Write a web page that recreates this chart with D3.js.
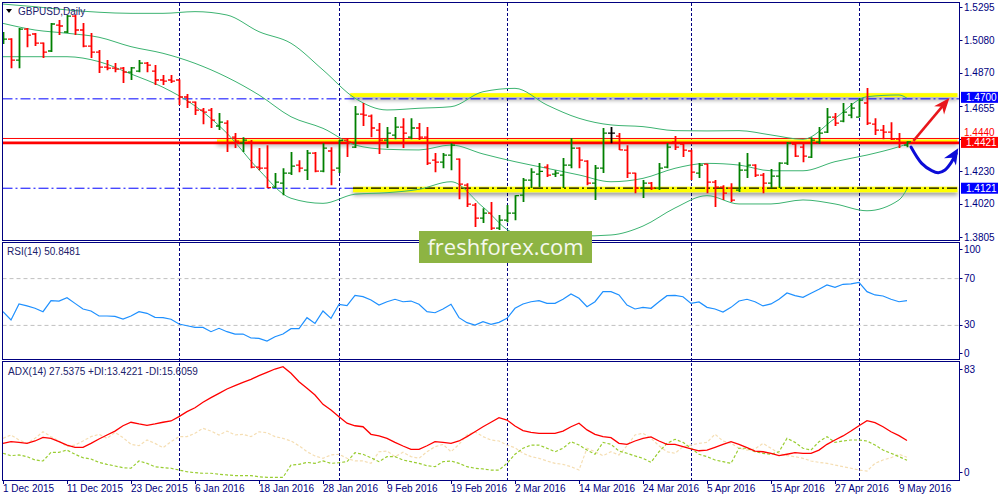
<!DOCTYPE html>
<html>
<head>
<meta charset="utf-8">
<script src="https://cdn.jsdelivr.net/npm/d3@7"></script>
<style>
  body { margin: 0; background: #fff; }
  svg { display: block; font-family: "Liberation Sans", Arial, sans-serif; }
</style>
</head>
<body>
<svg id="chart" width="1000" height="500"></svg>
<script>
// GBPUSD daily bars, 1 Dec 2015 .. 10 May 2016
const opens = [1.5068,1.5087,1.4951,1.5152,1.5120,1.5061,1.5010,1.5178,1.5133,1.5236,
  1.5146,1.5042,1.5003,1.4906,1.4899,1.4899,1.4873,1.4880,1.4932,1.4880,
  1.4822,1.4822,1.4822,1.4712,1.4679,1.4627,1.4627,1.4524,1.4543,1.4452,
  1.4413,1.4420,1.4258,1.4251,1.4128,1.4154,1.4219,1.4271,1.4238,1.4349,
  1.4232,1.4362,1.4251,1.4433,1.4387,1.4601,1.4588,1.4498,1.4433,1.4465,
  1.4517,1.4452,1.4511,1.4452,1.4303,1.4290,1.4336,1.4310,1.4141,1.4012,
  1.3927,1.3960,1.3863,1.3914,1.3960,1.4076,1.4174,1.4212,1.4258,1.4212,
  1.4206,1.4271,1.4381,1.4297,1.4154,1.4251,1.4478,1.4459,1.4368,1.4219,
  1.4122,1.4154,1.4122,1.4258,1.4420,1.4407,1.4362,1.4219,1.4277,1.4161,
  1.4128,1.4122,1.4109,1.4238,1.4271,1.4206,1.4154,1.4199,1.4284,1.4407,
  1.4387,1.4323,1.4420,1.4485,1.4582,1.4556,1.4595,1.4582,1.4673,1.4536,
  1.4498,1.4485,1.4439,1.4400];
const highs = [1.5133,1.5092,1.5159,1.5159,1.5126,1.5065,1.5191,1.5211,1.5243,1.5243,
  1.5191,1.5126,1.5016,1.4951,1.4932,1.4906,1.4906,1.4951,1.4938,1.4919,
  1.4854,1.4854,1.4825,1.4731,1.4682,1.4640,1.4640,1.4608,1.4562,1.4478,
  1.4452,1.4433,1.4381,1.4400,1.4219,1.4251,1.4355,1.4303,1.4368,1.4355,
  1.4413,1.4387,1.4433,1.4446,1.4653,1.4673,1.4598,1.4543,1.4517,1.4582,
  1.4575,1.4575,1.4543,1.4517,1.4349,1.4349,1.4413,1.4313,1.4154,1.4025,
  1.3992,1.4031,1.3947,1.4012,1.4076,1.4187,1.4251,1.4284,1.4277,1.4238,
  1.4316,1.4446,1.4387,1.4303,1.4271,1.4511,1.4517,1.4478,1.4400,1.4222,
  1.4174,1.4161,1.4284,1.4413,1.4459,1.4420,1.4370,1.4284,1.4280,1.4174,
  1.4141,1.4154,1.4290,1.4349,1.4277,1.4219,1.4245,1.4290,1.4420,1.4420,
  1.4413,1.4452,1.4517,1.4640,1.4608,1.4673,1.4673,1.4705,1.4770,1.4575,
  1.4530,1.4549,1.4478,1.4426];
const lows = [1.5055,1.4899,1.4899,1.5035,1.5042,1.4964,1.5003,1.5113,1.5126,1.5113,
  1.5035,1.4964,1.4867,1.4886,1.4873,1.4802,1.4822,1.4873,1.4873,1.4789,
  1.4789,1.4802,1.4660,1.4640,1.4595,1.4536,1.4511,1.4498,1.4355,1.4381,
  1.4355,1.4251,1.4238,1.4122,1.4122,1.4076,1.4206,1.4225,1.4174,1.4225,
  1.4225,1.4141,1.4219,1.4323,1.4381,1.4524,1.4452,1.4342,1.4381,1.4439,
  1.4381,1.4439,1.4433,1.4271,1.4225,1.4251,1.4238,1.4050,1.3999,1.3869,
  1.3895,1.3850,1.3850,1.3901,1.3914,1.4031,1.4122,1.4128,1.4193,1.4193,
  1.4122,1.4251,1.4251,1.4141,1.4044,1.4219,1.4413,1.4368,1.4187,1.4089,
  1.4057,1.4109,1.4109,1.4251,1.4368,1.4323,1.4174,1.4187,1.4089,1.3999,
  1.4044,1.4031,1.4096,1.4187,1.4193,1.4089,1.4122,1.4122,1.4271,1.4323,
  1.4290,1.4316,1.4407,1.4478,1.4524,1.4549,1.4575,1.4582,1.4530,1.4465,
  1.4439,1.4433,1.4381,1.4387];
const closes = [1.5087,1.4951,1.5152,1.5113,1.5061,1.5003,1.5185,1.5172,1.5236,1.5146,
  1.5042,1.5003,1.4906,1.4899,1.4893,1.4873,1.4900,1.4932,1.4919,1.4822,
  1.4815,1.4815,1.4712,1.4679,1.4627,1.4614,1.4562,1.4549,1.4413,1.4426,
  1.4433,1.4258,1.4251,1.4125,1.4161,1.4219,1.4264,1.4251,1.4349,1.4232,
  1.4381,1.4238,1.4430,1.4420,1.4601,1.4595,1.4511,1.4433,1.4478,1.4517,
  1.4478,1.4511,1.4452,1.4284,1.4290,1.4336,1.4400,1.4148,1.4018,1.3927,
  1.3960,1.3863,1.3914,1.3960,1.4073,1.4174,1.4225,1.4230,1.4206,1.4219,
  1.4271,1.4381,1.4303,1.4154,1.4251,1.4478,1.4478,1.4370,1.4219,1.4122,
  1.4154,1.4122,1.4251,1.4387,1.4387,1.4368,1.4225,1.4271,1.4161,1.4128,
  1.4089,1.4044,1.4238,1.4271,1.4206,1.4154,1.4199,1.4284,1.4413,1.4329,
  1.4329,1.4433,1.4478,1.4582,1.4543,1.4614,1.4640,1.4692,1.4543,1.4498,
  1.4485,1.4439,1.4413,1.4421];

// Bollinger bands read every 4th bar
const bbBars   = [0,4,8,12,16,20,24,28,32,36,40,44,48,52,56,60,64,68,72,76,80,84,88,92,96,100,104,108,112,113];
const bbUpper  = [1.5314,1.5297,1.5276,1.5261,1.5254,1.5254,1.5265,1.5243,1.5135,1.5060,1.4887,1.4704,1.4628,1.4639,1.4649,
  1.4746,1.4768,1.4660,1.4574,1.4531,1.4520,1.4494,1.4492,1.4494,1.4466,1.4438,1.4574,1.4714,1.4725,1.4704];
const bbMiddle = [1.5189,1.5146,1.5125,1.5099,1.5038,1.4995,1.4930,1.4840,1.4725,1.4584,1.4509,1.4401,1.4373,1.4369,1.4401,
  1.4343,1.4293,1.4250,1.4207,1.4163,1.4185,1.4250,1.4282,1.4271,1.4234,1.4234,1.4293,1.4336,1.4390,1.4407];
const bbLower  = [1.4973,1.4973,1.4973,1.4941,1.4861,1.4775,1.4654,1.4477,1.4239,1.4056,1.4023,1.4082,1.4092,1.4114,1.4163,
  1.3999,1.3831,1.3818,1.3811,1.3818,1.3876,1.3993,1.4073,1.4019,1.4019,1.4045,1.4019,1.3975,1.4045,1.4116];

const rsi = [41.3,34.2,47.9,46.2,44.2,41.3,50.7,50.4,53.3,48.4,43.6,41.9,37.6,37.6,37.3,35.0,37.6,41.3,39.9,36.5,
  36.2,34.8,30.8,29.3,27.9,27.9,24.2,27.1,24.2,22.2,22.2,18.8,18.5,16.2,19.9,22.2,26.8,26.8,36.2,31.3,
  41.9,35.6,47.6,46.4,55.3,54.1,51.3,47.0,49.8,51.9,49.8,50.4,47.6,41.3,40.4,43.6,47.6,36.2,31.9,29.9,
  32.7,30.5,32.2,35.6,44.2,47.9,49.8,50.7,48.4,48.4,51.9,56.4,52.7,45.6,49.8,58.4,58.4,55.6,47.0,43.6,
  45.0,44.2,49.8,55.0,55.3,54.1,48.4,49.6,45.0,43.6,41.0,45.0,50.4,51.9,49.8,46.2,47.9,51.9,57.3,55.0,
  53.6,57.0,60.4,64.1,62.1,64.7,65.0,66.4,58.4,55.6,54.7,51.9,49.8,50.8];
const adx = [25.5,26.7,26.2,25.5,27.2,29.8,29.1,26.7,24.3,22.7,22.7,25.5,28.6,31.5,34.3,38.1,40.6,39.4,38.4,39.4,
  40.6,41.5,44.6,48.2,51.0,54.9,58.2,61.3,64.4,66.8,69.2,71.3,73.9,76.3,78.7,80.4,75.6,69.6,64.9,60.1,
  53.4,49.4,44.6,39.9,38.1,37.4,32.0,30.8,29.1,26.2,23.6,21.2,21.2,23.8,26.7,26.2,25.5,27.2,30.3,33.8,
  37.4,40.6,43.9,42.2,37.9,34.6,33.4,32.7,32.7,32.7,34.3,37.4,39.9,35.1,32.0,30.3,29.6,25.5,24.8,27.2,
  29.1,30.1,27.2,24.8,24.8,23.1,21.5,20.2,20.7,22.7,24.8,26.7,24.8,22.4,20.0,19.5,18.4,16.7,17.7,18.8,
  18.4,18.4,20.7,24.8,27.9,30.8,34.3,38.1,41.7,40.3,37.4,33.8,31.0,27.5];
const plusDI = [18.4,16.7,17.2,16.0,13.6,12.9,19.1,19.1,20.7,17.7,15.2,14.3,11.9,10.5,9.3,8.1,7.7,12.9,11.2,8.8,
  8.1,7.7,6.4,5.2,4.5,4.1,4.1,3.4,2.9,2.4,2.4,2.4,1.6,1.2,1.2,1.2,10.0,10.5,11.9,11.2,
  12.9,11.2,11.7,12.4,18.8,17.7,15.2,12.4,16.0,16.0,13.6,12.4,11.2,9.5,8.8,12.4,12.9,11.2,8.8,7.7,
  7.2,6.4,6.4,11.2,17.7,22.0,24.3,24.3,22.0,19.5,22.0,26.7,24.3,20.7,17.7,26.2,24.8,20.0,18.4,16.5,
  14.8,11.9,19.5,25.5,28.4,26.2,22.0,17.7,16.0,13.6,12.4,11.2,22.0,22.0,19.5,18.4,17.7,19.5,29.1,26.2,
  22.0,20.7,26.7,30.3,26.2,27.2,27.9,27.9,27.2,24.3,20.7,18.4,16.0,13.4];
const minusDI = [29.1,31.5,27.9,25.5,29.1,33.8,30.3,27.2,23.1,24.3,27.2,30.3,32.0,29.1,33.4,29.6,24.8,23.8,27.9,25.5,
  22.4,26.7,30.3,30.3,32.7,36.3,34.3,31.5,34.3,31.5,32.0,30.3,33.8,33.1,30.3,29.1,27.2,23.8,19.5,16.5,
  14.8,17.2,17.7,14.8,12.9,12.9,11.2,19.5,20.0,16.0,19.1,16.0,14.8,19.5,23.1,24.8,19.5,24.8,31.5,33.8,
  30.3,27.9,27.2,24.3,22.4,18.4,16.0,14.8,12.9,11.2,10.5,8.8,6.4,22.0,19.5,16.7,19.5,17.2,23.8,31.5,
  32.7,29.1,23.8,19.5,18.4,23.1,24.3,25.5,26.2,32.0,27.2,25.5,22.0,20.7,21.5,25.5,22.0,18.4,16.7,16.0,
  14.8,12.9,11.9,11.2,10.0,8.8,7.7,6.4,5.7,11.2,13.6,15.2,17.7,15.6];

const priceTicks = [1.5295, 1.5080, 1.4870, 1.4655, 1.4440, 1.4230, 1.4020, 1.3805];
const rsiTicks = [100, 70, 30, 0];
const adxTicks = [83, 0];
const holidays = ['2015-12-25', '2016-01-01'];

// drawn levels and annotations (bar index, price)
const levels = { resist: 1.4700, pivot: 1.4421, ask: 1.4440, support: 1.4121 };
const bands = [
  { from: 43.4, lo: 1.4712, hi: 1.4737 },
  { from: 26.75, lo: 1.4418, hi: 1.4437 },
  { from: 43.75, lo: 1.4095, hi: 1.4131 }
];
const redArrow = [[113.8, 1.4428], [118.3, 1.4705]];
const blueArrow = [[113.5, 1.4388], [114.84, 1.4282], [116.09, 1.4235], [116.91, 1.4222],
  [117.75, 1.4239], [118.59, 1.4293], [119.41, 1.4380]];

// trading days
const fmtKey = d3.timeFormat('%Y-%m-%d');
const dates = [];
for (let d = new Date(2015, 11, 1); dates.length < closes.length; d = d3.timeDay.offset(d, 1)) {
  if (d.getDay() === 0 || d.getDay() === 6 || holidays.includes(fmtKey(d))) continue;
  dates.push(d);
}
const fmtLabel = d3.timeFormat('%-d %b %Y');

const svg = d3.select('#chart');
const navy = '#000080';
const left = 2.5, right = 959.5;
const panes = { main: [2.5, 240.5], rsi: [242.5, 359.5], adx: [361.5, 480.5] };

const x = d3.scaleLinear().domain([0, 119.5]).range([3, 959]);
const yP = d3.scaleLinear().domain([1.3805, 1.5295]).range([237, 7]);
const yR = d3.scaleLinear().domain([0, 100]).range([360, 243]);
const yA = d3.scaleLinear().domain([0, 83]).range([479, 363]);

svg.append('rect').attr('width', 1000).attr('height', 500).attr('fill', '#fff');

const defs = svg.append('defs');
Object.entries(panes).forEach(([k, p]) => {
  defs.append('clipPath').attr('id', 'clip-' + k)
    .append('rect').attr('x', left).attr('y', p[0]).attr('width', right - left).attr('height', p[1] - p[0]);
});
defs.append('filter').attr('id', 'shadow')
  .attr('x', '-2%').attr('y', '-100%').attr('width', '104%').attr('height', '400%')
  .append('feDropShadow').attr('dx', 0).attr('dy', 3).attr('stdDeviation', 2)
  .attr('flood-color', '#000').attr('flood-opacity', 0.4);

// month separators through all panes
const monthStarts = d3.range(1, dates.length).filter(i => dates[i].getMonth() !== dates[i - 1].getMonth());
svg.append('g').selectAll('line').data(monthStarts).enter().append('line')
  .attr('x1', i => Math.round(x(i)) + 0.5).attr('x2', i => Math.round(x(i)) + 0.5)
  .attr('y1', 3).attr('y2', 480)
  .attr('stroke', navy).attr('stroke-width', 1).attr('stroke-dasharray', '3,2');

// ---------- main pane ----------
const main = svg.append('g').attr('clip-path', 'url(#clip-main)');

main.selectAll('.band').data(bands).enter().append('rect')
  .attr('class', 'band')
  .attr('x', d => x(d.from)).attr('width', d => right - 2 - x(d.from))
  .attr('y', d => yP(d.hi)).attr('height', d => yP(d.lo) - yP(d.hi))
  .attr('fill', '#ffff00').attr('filter', 'url(#shadow)');

const hline = (g, price, x1, x2, color, width, dash, off) => g.append('line')
  .attr('x1', x1).attr('x2', x2).attr('y1', yP(price) + (off || 0)).attr('y2', yP(price) + (off || 0))
  .attr('stroke', color).attr('stroke-width', width).attr('stroke-dasharray', dash || null);

hline(main, levels.resist, left, right, '#0000ff', 1, '10,3,2,3');
hline(main, levels.support, left, x(bands[2].from), '#0000ff', 1, '10,3,2,3');
hline(main, levels.support, x(bands[2].from), right, '#000000', 1.3, '10,3,2,3');
hline(main, levels.ask, left, right, '#ff0000', 1, null, -0.5);
hline(main, levels.pivot, left, right, '#ff0000', 2.6, null, 1);

const bbLine = arr => d3.line().curve(d3.curveMonotoneX)
  .x((v, k) => x(bbBars[k])).y(v => yP(v))(arr);
[bbUpper, bbMiddle, bbLower].forEach(arr => {
  main.append('path').attr('d', bbLine(arr))
    .attr('fill', 'none').attr('stroke', '#3cb371').attr('stroke-width', 1);
});

const bars = d3.range(closes.length).map(i => ({ i, o: opens[i], h: highs[i], l: lows[i], c: closes[i] }));
const barColor = d => d.c > d.o ? '#008000' : d.c < d.o ? '#ff0000' : '#000000';
const barG = main.selectAll('.bar').data(bars).enter().append('g').attr('class', 'bar')
  .attr('stroke', barColor);
barG.append('line')
  .attr('x1', d => Math.round(x(d.i)) + 0.5).attr('x2', d => Math.round(x(d.i)) + 0.5)
  .attr('y1', d => yP(d.h)).attr('y2', d => yP(d.l)).attr('stroke-width', 1.8);
barG.append('line')
  .attr('x1', d => Math.round(x(d.i)) - 3).attr('x2', d => Math.round(x(d.i)) + 0.5)
  .attr('y1', d => yP(d.o)).attr('y2', d => yP(d.o)).attr('stroke-width', 1.3);
barG.append('line')
  .attr('x1', d => Math.round(x(d.i)) + 0.5).attr('x2', d => Math.round(x(d.i)) + 4)
  .attr('y1', d => yP(d.c)).attr('y2', d => yP(d.c)).attr('stroke-width', 1.3);

// arrows
const arrowHead = (g, tip, from, len, half, color) => {
  const dx = tip[0] - from[0], dy = tip[1] - from[1];
  const n = Math.hypot(dx, dy), ux = dx / n, uy = dy / n;
  const bx = tip[0] - ux * len, by = tip[1] - uy * len;
  const pts = [tip, [bx - uy * half, by + ux * half],
    [tip[0] - ux * len * 0.7, tip[1] - uy * len * 0.7], [bx + uy * half, by - ux * half]];
  g.append('polygon').attr('points', pts.map(p => p.join(',')).join(' ')).attr('fill', color);
};
const annot = svg.append('g');
const redPts = redArrow.map(p => [x(p[0]), yP(p[1])]);
annot.append('line')
  .attr('x1', redPts[0][0]).attr('y1', redPts[0][1])
  .attr('x2', redPts[1][0] - 0.5 * (redPts[1][0] - redPts[0][0]) / 4)
  .attr('y2', redPts[1][1] - 0.5 * (redPts[1][1] - redPts[0][1]) / 4)
  .attr('stroke', '#e8161b').attr('stroke-width', 2.5);
arrowHead(annot, redPts[1], redPts[0], 16, 6.5, '#e8161b');

const bluePts = blueArrow.map(p => [x(p[0]), yP(p[1])]);
annot.append('path')
  .attr('d', d3.line().curve(d3.curveCatmullRom)(bluePts.slice(0, -1).concat([[
    bluePts[bluePts.length - 1][0] - 2, bluePts[bluePts.length - 1][1] + 5]])))
  .attr('fill', 'none').attr('stroke', '#0c0cd8').attr('stroke-width', 3).attr('stroke-linecap', 'round');
arrowHead(annot, bluePts[bluePts.length - 1], bluePts[bluePts.length - 3], 16, 7, '#0c0cd8');

// ---------- RSI pane ----------
const rsiG = svg.append('g').attr('clip-path', 'url(#clip-rsi)');
[70, 30].forEach(v => {
  rsiG.append('line').attr('x1', left).attr('x2', right).attr('y1', yR(v) + 0.5).attr('y2', yR(v) + 0.5)
    .attr('stroke', '#c0c0c0').attr('stroke-dasharray', '4,3');
});
rsiG.append('path')
  .attr('d', d3.line().x((v, i) => x(i)).y(v => yR(v))(rsi))
  .attr('fill', 'none').attr('stroke', '#1e90ff').attr('stroke-width', 1.2);

// ---------- ADX pane ----------
const adxG = svg.append('g').attr('clip-path', 'url(#clip-adx)');
const adxLine = d3.line().x((v, i) => x(i)).y(v => yA(v));
adxG.append('path').attr('d', adxLine(minusDI))
  .attr('fill', 'none').attr('stroke', '#f5deb3').attr('stroke-width', 1.2).attr('stroke-dasharray', '3,2');
adxG.append('path').attr('d', adxLine(plusDI))
  .attr('fill', 'none').attr('stroke', '#9acd32').attr('stroke-width', 1.2).attr('stroke-dasharray', '3,2');
adxG.append('path').attr('d', adxLine(adx))
  .attr('fill', 'none').attr('stroke', '#ff0000').attr('stroke-width', 1.3);

// ---------- frames ----------
Object.values(panes).forEach(p => {
  svg.append('rect').attr('x', left).attr('y', p[0]).attr('width', right - left).attr('height', p[1] - p[0])
    .attr('fill', 'none').attr('stroke', navy).attr('stroke-width', 1);
});

// right axes
const axisText = (y, label, color) => svg.append('text')
  .attr('x', 964).attr('y', y).attr('dy', '0.35em')
  .attr('font-size', 10).attr('fill', color || navy).text(label);
priceTicks.forEach(p => {
  svg.append('line').attr('x1', right).attr('x2', right + 3).attr('y1', Math.round(yP(p)) + 0.5)
    .attr('y2', Math.round(yP(p)) + 0.5).attr('stroke', navy);
  // labels crowded by the level tags are nudged clear of them
  const nudge = p === levels.ask ? -6 : p === 1.4655 ? 3 : 0;
  axisText(yP(p) + nudge, p.toFixed(4), p === levels.ask ? '#ff0000' : navy);
});
rsiTicks.forEach(v => {
  const ty = v === 100 ? yR(v) + 6 : v === 0 ? yR(v) - 7 : yR(v);
  svg.append('line').attr('x1', right).attr('x2', right + 3).attr('y1', Math.round(ty) + 0.5)
    .attr('y2', Math.round(ty) + 0.5).attr('stroke', navy);
  axisText(ty, v);
});
adxTicks.forEach(v => {
  const ty = v === 0 ? yA(v) - 7 : yA(v) + 6;
  svg.append('line').attr('x1', right).attr('x2', right + 3).attr('y1', Math.round(ty) + 0.5)
    .attr('y2', Math.round(ty) + 0.5).attr('stroke', navy);
  axisText(ty, v);
});

// price tags
const tag = (price, color, dy) => {
  const ty = yP(price) + dy;
  svg.append('rect').attr('x', 961).attr('y', ty - 5.5).attr('width', 37).attr('height', 11).attr('fill', color);
  svg.append('text').attr('x', 966).attr('y', ty).attr('dy', '0.35em')
    .attr('font-size', 10).attr('fill', '#fff').text(price.toFixed(4));
};
tag(levels.resist, '#0000ff', -1.5);
tag(levels.pivot, '#ff0000', 0.5);
tag(levels.support, '#0000ff', 0);

// date axis
const labelBars = d3.range(0, dates.length, 8);
labelBars.forEach(i => {
  const tx = Math.round(x(i)) + 0.5;
  svg.append('line').attr('x1', tx).attr('x2', tx).attr('y1', 480.5).attr('y2', 484).attr('stroke', navy);
  svg.append('text').attr('x', x(i)).attr('y', 492).attr('font-size', 10).attr('fill', navy)
    .text(fmtLabel(dates[i]));
});

// pane captions
svg.append('path').attr('d', 'M6,9 L12,9 L9,13 Z').attr('fill', '#000');
svg.append('text').attr('x', 18).attr('y', 15).attr('font-size', 10).attr('fill', '#20206a').text('GBPUSD,Daily');
svg.append('text').attr('x', 7).attr('y', 255).attr('font-size', 10).attr('fill', '#20206a').text('RSI(14) 50.8481');
svg.append('text').attr('x', 8).attr('y', 375).attr('font-size', 10).attr('fill', '#20206a')
  .text('ADX(14) 27.5375 +DI:13.4221 -DI:15.6059');

// watermark
svg.append('rect').attr('x', 419).attr('y', 231).attr('width', 173).attr('height', 32).attr('fill', '#8db443');
svg.append('text').attr('x', 505.5).attr('y', 255).attr('text-anchor', 'middle')
  .attr('font-family', '"Open Sans", "Noto Sans", sans-serif').attr('font-size', 22)
  .attr('fill', '#f5f8ee').text('freshforex.com');
</script>
</body>
</html>
